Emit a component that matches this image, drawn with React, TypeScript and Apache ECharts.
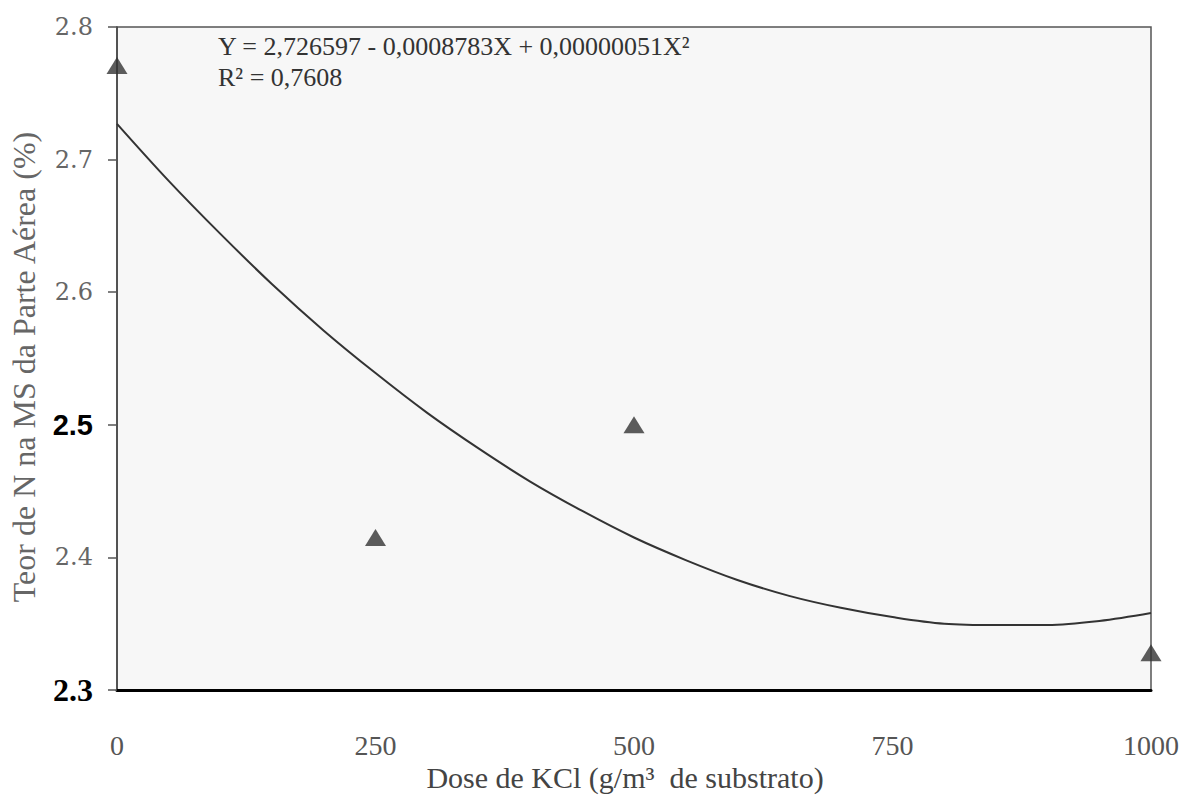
import React, { useEffect, useRef } from "react";
import * as echarts from "echarts";

// Observed points (dose of KCl, N content)
const doses = [0, 250, 500, 1000];
const nContent = [2.771, 2.415, 2.5, 2.328];

// Fitted curve, every 50 g/m3
const curveX = [0, 50, 100, 150, 200, 250, 300, 350, 400, 450, 500, 550, 600, 650, 700, 750, 800, 850, 900, 950, 1000];
const curveY = [2.727, 2.684, 2.644, 2.606, 2.571, 2.539, 2.509, 2.482, 2.457, 2.435, 2.415, 2.398, 2.383, 2.371, 2.362, 2.355, 2.35, 2.349, 2.349, 2.352, 2.358];

const xTicks = [0, 250, 500, 750, 1000];
const yTicks = [2.3, 2.4, 2.5, 2.6, 2.7, 2.8];

const equationLine1 = "Y = 2,726597 - 0,0008783X + 0,00000051X²";
const equationLine2 = "R² = 0,7608";
const xTitle = "Dose de KCl (g/m³  de substrato)";
const yTitle = "Teor de N na MS da Parte Aérea (%)";

const TIMES = "Liberation Serif, serif";
const BOOK = "DejaVu Serif, serif";
const SANS = "Liberation Sans, sans-serif";

export default function App() {
  const ref = useRef<HTMLDivElement>(null);
  useEffect(() => {
    if (!ref.current) return;
    const chart = echarts.init(ref.current, null, { renderer: "svg" });
    chart.setOption({
      animation: false,
      backgroundColor: "#ffffff",
      grid: {
        left: 117,
        right: 50,
        top: 27,
        bottom: 111,
        show: true,
        borderColor: "#555555",
        borderWidth: 1.5,
        backgroundColor: "#f7f7f7",
      },
      xAxis: {
        type: "value",
        min: 0,
        max: 1000,
        interval: 250,
        axisLine: { show: true, lineStyle: { color: "#000000", width: 3 } },
        axisTick: { show: false },
        splitLine: { show: false },
        axisLabel: {
          margin: 41,
          fontFamily: TIMES,
          fontSize: 28,
          color: "#555555",
          formatter: (v: number) => (xTicks.includes(v) ? String(v) : ""),
        },
      },
      yAxis: {
        type: "value",
        min: 2.3,
        max: 2.8,
        interval: 0.1,
        axisLine: { show: true, lineStyle: { color: "#444444", width: 1.5 } },
        axisTick: { show: true, length: 9, lineStyle: { color: "#555555", width: 1.5 } },
        splitLine: { show: false },
        axisLabel: {
          margin: 24,
          formatter: (v: number) => {
            const s = v.toFixed(1);
            if (!yTicks.some((t) => Math.abs(t - v) < 1e-6)) return "";
            if (s === "2.5") return "{b|" + s + "}";
            if (s === "2.3") return "{c|" + s + "}";
            return "{a|" + s + "}";
          },
          rich: {
            a: { fontFamily: BOOK, fontSize: 24, color: "#666666" },
            b: { fontFamily: SANS, fontSize: 29, fontWeight: "bold", color: "#000000" },
            c: { fontFamily: TIMES, fontSize: 32, fontWeight: "bold", color: "#000000" },
          },
        },
      },
      graphic: [
        {
          type: "text",
          left: 218,
          top: 33,
          style: { text: equationLine1, fontFamily: TIMES, fontSize: 26, fill: "#333333" },
        },
        {
          type: "text",
          left: 218,
          top: 64,
          style: { text: equationLine2, fontFamily: TIMES, fontSize: 26, fill: "#333333" },
        },
        {
          type: "text",
          x: 625,
          y: 777,
          style: {
            text: xTitle,
            fontFamily: TIMES,
            fontSize: 30,
            fill: "#444444",
            align: "center",
            verticalAlign: "middle",
          },
        },
        {
          type: "text",
          x: 24,
          y: 367,
          rotation: Math.PI / 2,
          style: {
            text: yTitle,
            fontFamily: TIMES,
            fontSize: 32,
            fill: "#666666",
            align: "center",
            verticalAlign: "middle",
          },
        },
      ],
      series: [
        {
          type: "line",
          data: curveX.map((x, i) => [x, curveY[i]]),
          smooth: 0.35,
          showSymbol: false,
          lineStyle: { color: "#333333", width: 2 },
          z: 2,
        },
        {
          type: "scatter",
          data: doses.map((x, i) => [x, nContent[i]]),
          symbol: "triangle",
          symbolSize: [21, 17],
          itemStyle: { color: "#333333" },
          z: 3,
        },
      ],
    });
    return () => chart.dispose();
  }, []);
  return (
    <div
      ref={ref}
      style={{ position: "fixed", left: 0, top: 0, width: 1201, height: 801 }}
    />
  );
}
